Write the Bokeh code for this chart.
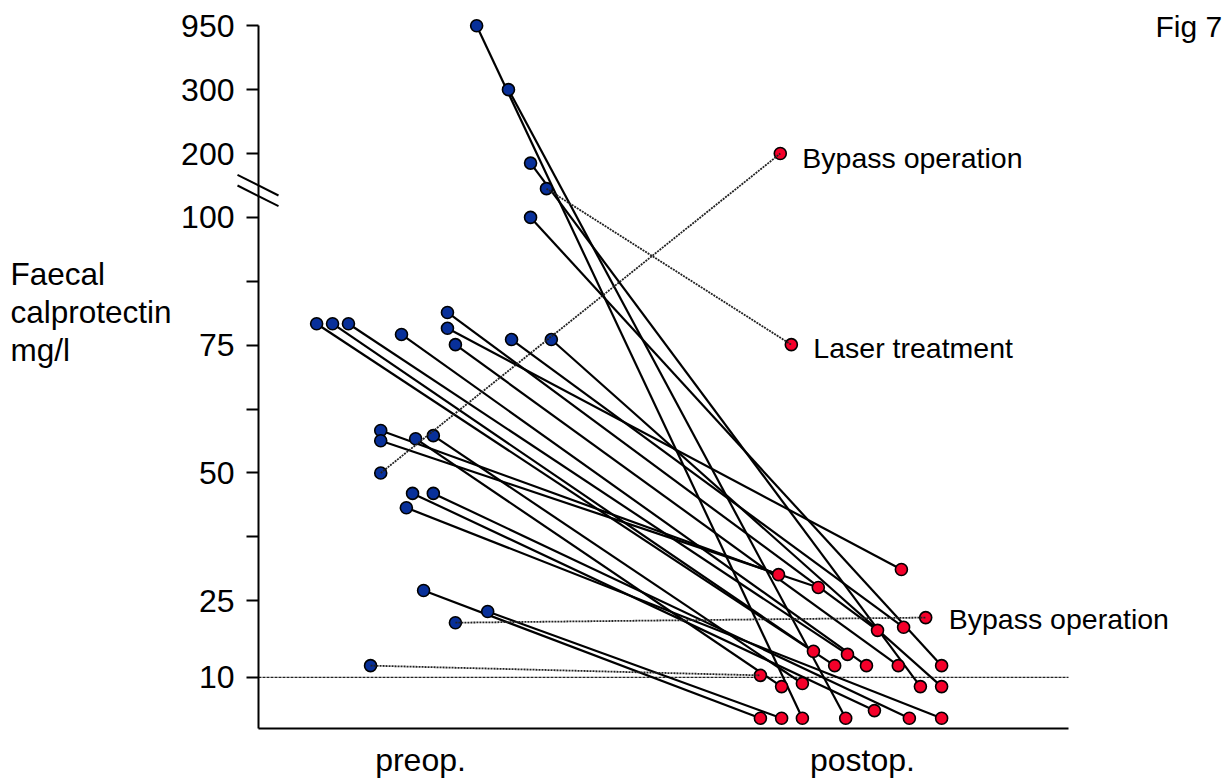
import numpy as np
from bokeh.plotting import figure
from bokeh.models import Range1d, FixedTicker, Label
from bokeh.core.properties import value
from bokeh.embed import file_html
from bokeh.resources import INLINE

# ---------------- data ----------------
x_categories = ["preop.", "postop."]           # placed at x = 1 and x = 2
y_tick_values = [10, 25, 50, 75, 100, 200, 300, 950]
y_tick_labels = ["10", "25", "50", "75", "100", "200", "300", "950"]
y_minor_values = [37.5, 62.5, 87.5]

# broken axis: values above 100 are compressed (100, 200, 300, 950 evenly spaced)
break_values = [0, 100, 200, 300, 950]
break_scale = [0, 100, 112.5, 125, 137.5]

# paired patients (solid lines): preop -> postop faecal calprotectin (mg/l)
pre_val = [950, 300, 185, 100, 79.2, 79.2, 79.2, 77.1, 81.4, 78.3, 75.1, 76.1, 76.1,
           58.3, 56.3, 56.7, 57.3, 46.0, 46.0, 43.2, 27.0, 22.9]
pre_x = [1.127, 1.199, 1.249, 1.249, 0.765, 0.801, 0.837, 0.957, 1.061, 1.061, 1.079, 1.206, 1.296,
         0.910, 0.910, 0.989, 1.029, 0.982, 1.029, 0.968, 1.007, 1.152]
post_val = [2.0, 2.0, 8.2, 12.3, 12.3, 15.1, 14.5, 12.3, 19.2, 31.1, 12.3, 19.8, 8.2,
            30.1, 27.6, 8.2, 8.8, 3.5, 2.0, 2.0, 2.0, 2.0]
post_x = [1.864, 1.962, 2.131, 2.179, 1.937, 1.889, 1.966, 2.009, 2.034, 2.088, 2.081, 2.093, 2.179,
          1.810, 1.900, 1.817, 1.864, 2.027, 2.106, 2.179, 1.769, 1.817]

# patients with other treatment (dotted lines)
dot_pre_val = [145, 50, 20.7, 12.3]
dot_pre_x = [1.285, 0.910, 1.079, 0.887]
dot_post_val = [75.1, 200, 21.7, 10.4]
dot_post_x = [1.839, 1.814, 2.143, 1.769]
dot_labels = ["Laser treatment", "Bypass operation", "Bypass operation", ""]

reference_level = 10
y_title_lines = ["Faecal", "calprotectin", "mg/l"]
fig_label = "Fig 7"


def tr(v):
    return np.interp(np.asarray(v, dtype=float), break_values, break_scale)


# ---------------- layout constants ----------------
PX_PER_X = 442.0
PX_PER_Y = 5.111
LEFT = 258
X0 = 1 - 162 / PX_PER_X
FRAME_W, FRAME_H = 973, 728
X1 = X0 + FRAME_W / PX_PER_X
Y1 = FRAME_H / PX_PER_Y
X_AXIS_END = X0 + 810 / PX_PER_X
FONT = "Liberation Sans"


def xpx(px):     # canvas px -> x data position
    return X0 + (px - LEFT) / PX_PER_X


def ypx(py):
    return (FRAME_H - py) / PX_PER_Y


p = figure(frame_width=FRAME_W, frame_height=FRAME_H, min_border_left=LEFT, min_border_right=0,
           min_border_top=0, min_border_bottom=50, output_backend="svg", toolbar_location=None,
           x_range=Range1d(X0, X1), y_range=Range1d(0, Y1), title=None)
p.outline_line_color = None
p.grid.visible = False
p.background_fill_color = "white"
p.border_fill_color = "white"

# y axis
ya = p.yaxis[0]
ya.ticker = FixedTicker(ticks=list(tr(y_tick_values)), minor_ticks=y_minor_values)
ya.major_label_overrides = {float(t): l for t, l in zip(tr(y_tick_values), y_tick_labels)}
ya.bounds = (0, float(tr(950)))
ya.axis_line_width = 2
ya.major_tick_line_width = 2
ya.minor_tick_line_width = 2
ya.major_tick_out = 12
ya.major_tick_in = 0
ya.minor_tick_out = 12
ya.minor_tick_in = 0
ya.major_label_standoff = 12
ya.major_label_text_font = FONT
ya.major_label_text_font_size = "32px"
ya.major_label_text_color = "black"

# x axis
xa = p.xaxis[0]
xa.ticker = FixedTicker(ticks=[1, 2], minor_ticks=[])
xa.major_label_overrides = {1: x_categories[0], 2: x_categories[1]}
xa.bounds = (X0, X_AXIS_END)
xa.axis_line_width = 2
xa.major_tick_out = 0
xa.major_tick_in = 0
xa.major_tick_line_color = None
xa.minor_tick_line_color = None
xa.major_label_standoff = 13
xa.major_label_text_font = FONT
xa.major_label_text_font_size = "32px"
xa.major_label_text_color = "black"

# reference line at 10 mg/l
p.segment(x0=[X0], y0=[reference_level], x1=[X_AXIS_END], y1=[reference_level],
          line_color="#222222", line_width=1.4, line_dash="3 1")

# paired lines
p.segment(x0=pre_x, y0=tr(pre_val), x1=post_x, y1=tr(post_val), line_color="black", line_width=2.2)

# points
BLUE = "#08309a"
RED = "#f5002a"
for xs, vals, col in [(pre_x, pre_val, BLUE), (post_x, post_val, RED),
                      (dot_pre_x, dot_pre_val, BLUE), (dot_post_x, dot_post_val, RED)]:
    p.scatter(x=xs, y=tr(vals), size=12, fill_color=col, line_color="black", line_width=1.6)

# dotted lines (other treatments) drawn above points
p.segment(x0=dot_pre_x, y0=tr(dot_pre_val), x1=dot_post_x, y1=tr(dot_post_val),
          line_color="#222222", line_width=1.8, line_dash="2 1")

# labels for treatments
label_offsets = [(22, -3), (22, -4), (23, -1), (0, 0)]
for xv, yv, txt, (dx, dy) in zip(dot_post_x, tr(dot_post_val), dot_labels, label_offsets):
    if txt:
        p.add_layout(Label(x=xv, y=float(yv), x_offset=dx, y_offset=dy, text=txt,
                           text_baseline="middle", text_align="left", text_font=FONT,
                           text_font_size="28.5px", text_color="black"))

# axis break marks (overlay level, drawn across the axis line)
p.segment(x0=[xpx(237), xpx(237)], y0=[ypx(174.3), ypx(185.0)],
          x1=[xpx(278), xpx(278)], y1=[ypx(195.0), ypx(205.7)],
          line_color="black", line_width=2, level="overlay")

# y axis title (horizontal, three lines) left of the axis
p.text(x=[xpx(10)] * 3, y=[ypx(273), ypx(311), ypx(349)], text=y_title_lines,
       text_baseline="middle", text_align="left", text_font=value(FONT),
       text_font_size="31.5px", text_color="black", level="overlay")

# figure number
p.add_layout(Label(x=xpx(1155), y=ypx(25.5), text=fig_label,
                   text_baseline="middle", text_align="left", text_font=FONT,
                   text_font_size="30px", text_color="black"))

open("out.html", "w").write(file_html(p, INLINE))
